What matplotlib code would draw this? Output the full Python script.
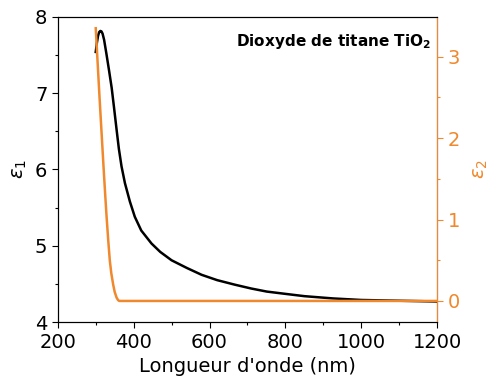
import matplotlib
matplotlib.use('Agg')
import matplotlib.pyplot as plt
from matplotlib.ticker import MultipleLocator

# wavelength (nm) and permittivity of TiO2
lam_e1 = [300, 303, 306, 309, 312, 315, 318, 322, 328, 335, 342, 348, 355, 361,
          368, 377, 390, 403, 420, 447, 470, 500, 540, 579, 620, 667, 710,
          751, 800, 850, 926, 1000, 1100, 1200]
eps1 = [7.54, 7.66, 7.75, 7.8, 7.815, 7.81, 7.78, 7.7, 7.52, 7.3, 7.07, 6.82,
        6.52, 6.27, 6.04, 5.82, 5.58, 5.38, 5.2, 5.03, 4.92, 4.81, 4.71, 4.62,
        4.55, 4.49, 4.44, 4.4, 4.37, 4.34, 4.31, 4.29, 4.28, 4.27]

lam_e2 = [300, 310, 321, 325, 328.5, 333, 337, 341, 346, 350, 355, 359, 362,
          400, 600, 800, 1000, 1200]
eps2 = [3.35, 2.5, 1.61, 1.3, 1.04, 0.74, 0.5, 0.34, 0.2, 0.11, 0.04, 0.01, 0.0,
        0.0, 0.0, 0.0, 0.0, 0.0]

orange = '#f0882d'

plt.rcParams['font.family'] = 'DejaVu Sans'
plt.rcParams['mathtext.fontset'] = 'dejavusans'

fig = plt.figure(figsize=(4.9, 3.83), dpi=100)
ax = fig.add_axes([0.118, 0.159, 0.774, 0.797])
ax2 = ax.twinx()

ax.plot(lam_e1, eps1, color='black', lw=1.8)
ax2.plot(lam_e2, eps2, color=orange, lw=1.8)

ax.set_xlim(200, 1200)
ax.set_ylim(4, 8)
ax2.set_ylim(-0.26, 3.49)

ax.xaxis.set_major_locator(MultipleLocator(200))
ax.xaxis.set_minor_locator(MultipleLocator(100))
ax.yaxis.set_major_locator(MultipleLocator(1))
ax.yaxis.set_minor_locator(MultipleLocator(0.5))
ax2.yaxis.set_major_locator(MultipleLocator(1))
ax2.yaxis.set_minor_locator(MultipleLocator(0.5))

ax.tick_params(axis='both', which='major', labelsize=14, length=4, width=0.8)
ax.tick_params(axis='both', which='minor', length=2.5, width=0.8)
ax2.tick_params(axis='y', which='major', labelsize=14, length=4, width=0.8,
                colors=orange)
ax2.tick_params(axis='y', which='minor', length=2.5, width=0.8, colors=orange)
ax2.spines['right'].set_color(orange)

ax.set_xlabel("Longueur d'onde (nm)", fontsize=14)
ax.set_ylabel(r'$\varepsilon_1$', fontsize=14)
ax2.set_ylabel(r'$\varepsilon_2$', fontsize=14, color=orange, labelpad=8)

ax.text(0.985, 0.95, r'Dioxyde de titane TiO$_\mathbf{2}$', transform=ax.transAxes,
        ha='right', va='top', fontsize=11, fontweight='bold')

fig.savefig('out.png', dpi=100)
